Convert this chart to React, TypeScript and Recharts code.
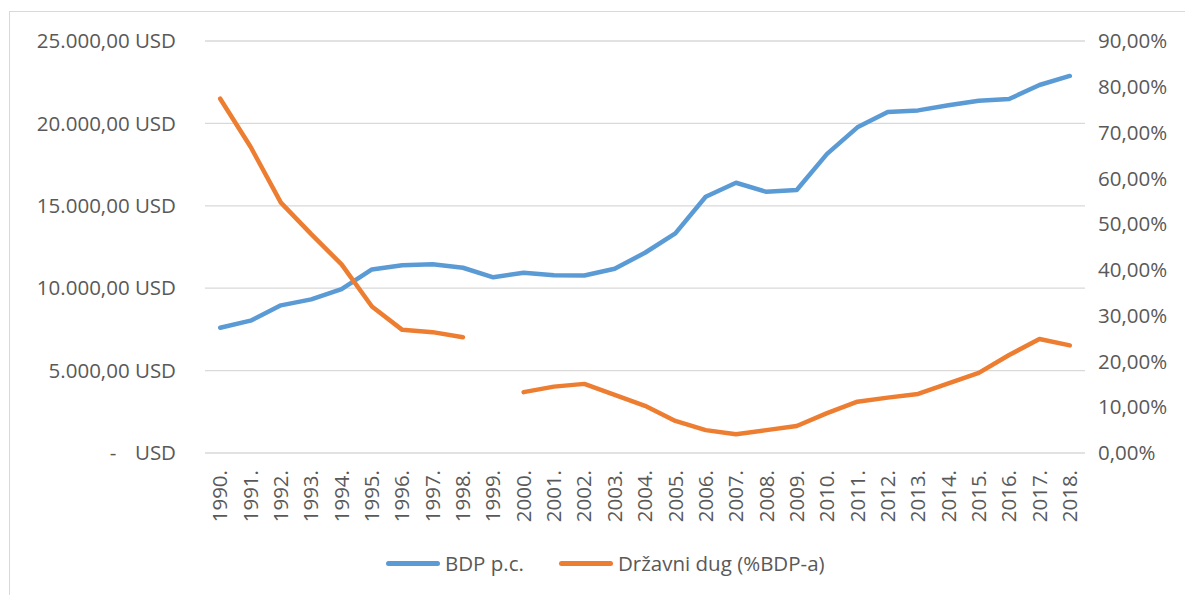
import React from 'react'
import { LineChart, Line, XAxis, YAxis, CartesianGrid } from 'recharts'

const years = [
  '1990.', '1991.', '1992.', '1993.', '1994.', '1995.', '1996.', '1997.', '1998.', '1999.',
  '2000.', '2001.', '2002.', '2003.', '2004.', '2005.', '2006.', '2007.', '2008.', '2009.',
  '2010.', '2011.', '2012.', '2013.', '2014.', '2015.', '2016.', '2017.', '2018.',
]

// BDP p.c. (USD)
const bdpPc = [
  7600, 8030, 8960, 9320, 9950, 11140, 11390, 11450, 11240, 10660,
  10940, 10780, 10770, 11180, 12150, 13330, 15550, 16400, 15850, 15960,
  18150, 19760, 20690, 20790, 21100, 21380, 21480, 22330, 22880,
]

// Državni dug (% BDP-a), no value for 1999
const drzavniDug: (number | null)[] = [
  77.4, 66.9, 54.7, 47.8, 41.2, 32.0, 26.9, 26.4, 25.3, null,
  13.3, 14.5, 15.1, 12.7, 10.3, 7.0, 5.0, 4.1, 5.0, 5.9,
  8.7, 11.2, 12.1, 12.9, 15.2, 17.5, 21.4, 24.9, 23.5,
]

const usdTicks = [0, 5000, 10000, 15000, 20000, 25000]
const pctTicks = [0, 10, 20, 30, 40, 50, 60, 70, 80, 90]

const data = years.map((year, i) => ({ year, bdp: bdpPc[i], dug: drzavniDug[i] }))

const FONT = '"Open Sans", sans-serif'
const FS = 20.5
const TEXT = '#595959'
const BLUE = '#5b9bd5'
const ORANGE = '#ed7d31'
const GRID = '#d9d9d9'

function groupThousands(n: number) {
  const [int, dec] = n.toFixed(2).split('.')
  return int.replace(/\B(?=(\d{3})+(?!\d))/g, '.') + ',' + dec
}

const UsdTick = (props: any) => {
  const { x, y, payload } = props
  if (payload.value === 0) {
    return (
      <g fill={TEXT} fontSize={FS} fontFamily={FONT}>
        <text x={x - 63} y={y} dy="0.35em" textAnchor="middle">-</text>
        <text x={x} y={y} dy="0.35em" textAnchor="end">USD</text>
      </g>
    )
  }
  return (
    <text x={x} y={y} dy="0.35em" textAnchor="end" fill={TEXT} fontSize={FS} fontFamily={FONT}>
      {groupThousands(payload.value) + ' USD'}
    </text>
  )
}

const PctTick = (props: any) => {
  const { x, y, payload } = props
  return (
    <text x={x} y={y} dy="0.35em" textAnchor="start" fill={TEXT} fontSize={FS} fontFamily={FONT}>
      {payload.value.toFixed(2).replace('.', ',') + '%'}
    </text>
  )
}

const YearTick = (props: any) => {
  const { x, y, payload } = props
  return (
    <text
      x={x}
      y={y}
      dy="0.35em"
      textAnchor="end"
      transform={`rotate(-90, ${x}, ${y})`}
      fill={TEXT}
      fontSize={FS}
      fontFamily={FONT}
    >
      {payload.value}
    </text>
  )
}

const legendItems = [
  { label: 'BDP p.c.', color: BLUE, left: 386 },
  { label: 'Državni dug (%BDP-a)', color: ORANGE, left: 559 },
]

export default function App() {
  return (
    <div style={{ position: 'relative', width: 1185, height: 595, overflow: 'hidden', fontFamily: FONT, background: '#fff' }}>
      <style>{'body{margin:0;overflow:hidden}'}</style>
      <div
        style={{
          position: 'absolute', left: 9, top: 11, width: 1200, height: 620,
          border: `1px solid ${GRID}`, boxSizing: 'border-box',
        }}
      />
      <div style={{ position: 'absolute', left: 0, top: 0 }}>
        <LineChart width={1185} height={595} data={data} margin={{ top: 41, right: 0, bottom: 82, left: 0 }}>
          <CartesianGrid yAxisId="usd" vertical={false} stroke={GRID} strokeWidth={1.3} />
          <XAxis
            dataKey="year"
            interval={0}
            axisLine={false}
            tickLine={false}
            tickMargin={11}
            height={60}
            padding={{ left: 15.2, right: 15.2 }}
            tick={<YearTick />}
          />
          <YAxis
            yAxisId="usd"
            width={205}
            domain={[0, 25000]}
            ticks={usdTicks}
            axisLine={false}
            tickLine={false}
            tickMargin={23}
            tick={<UsdTick />}
          />
          <YAxis
            yAxisId="pct"
            orientation="right"
            width={100}
            domain={[0, 90]}
            ticks={pctTicks}
            axisLine={false}
            tickLine={false}
            tickMargin={7}
            tick={<PctTick />}
          />
          <Line
            yAxisId="usd"
            dataKey="bdp"
            name="BDP p.c."
            stroke={BLUE}
            strokeWidth={4.5}
            strokeLinecap="round"
            strokeLinejoin="round"
            dot={false}
            activeDot={false}
            type="linear"
            isAnimationActive={false}
          />
          <Line
            yAxisId="pct"
            dataKey="dug"
            name="Državni dug (%BDP-a)"
            stroke={ORANGE}
            strokeWidth={4.5}
            strokeLinecap="round"
            strokeLinejoin="round"
            dot={false}
            activeDot={false}
            type="linear"
            isAnimationActive={false}
          />
        </LineChart>
      </div>
      {legendItems.map((item) => (
        <div
          key={item.label}
          style={{
            position: 'absolute', left: item.left, top: 549, height: 28,
            display: 'flex', alignItems: 'center', fontSize: FS, color: TEXT, whiteSpace: 'nowrap',
          }}
        >
          <span style={{ display: 'inline-block', width: 54, height: 5, borderRadius: 3, background: item.color, marginRight: 5 }} />
          {item.label}
        </div>
      ))}
    </div>
  )
}
